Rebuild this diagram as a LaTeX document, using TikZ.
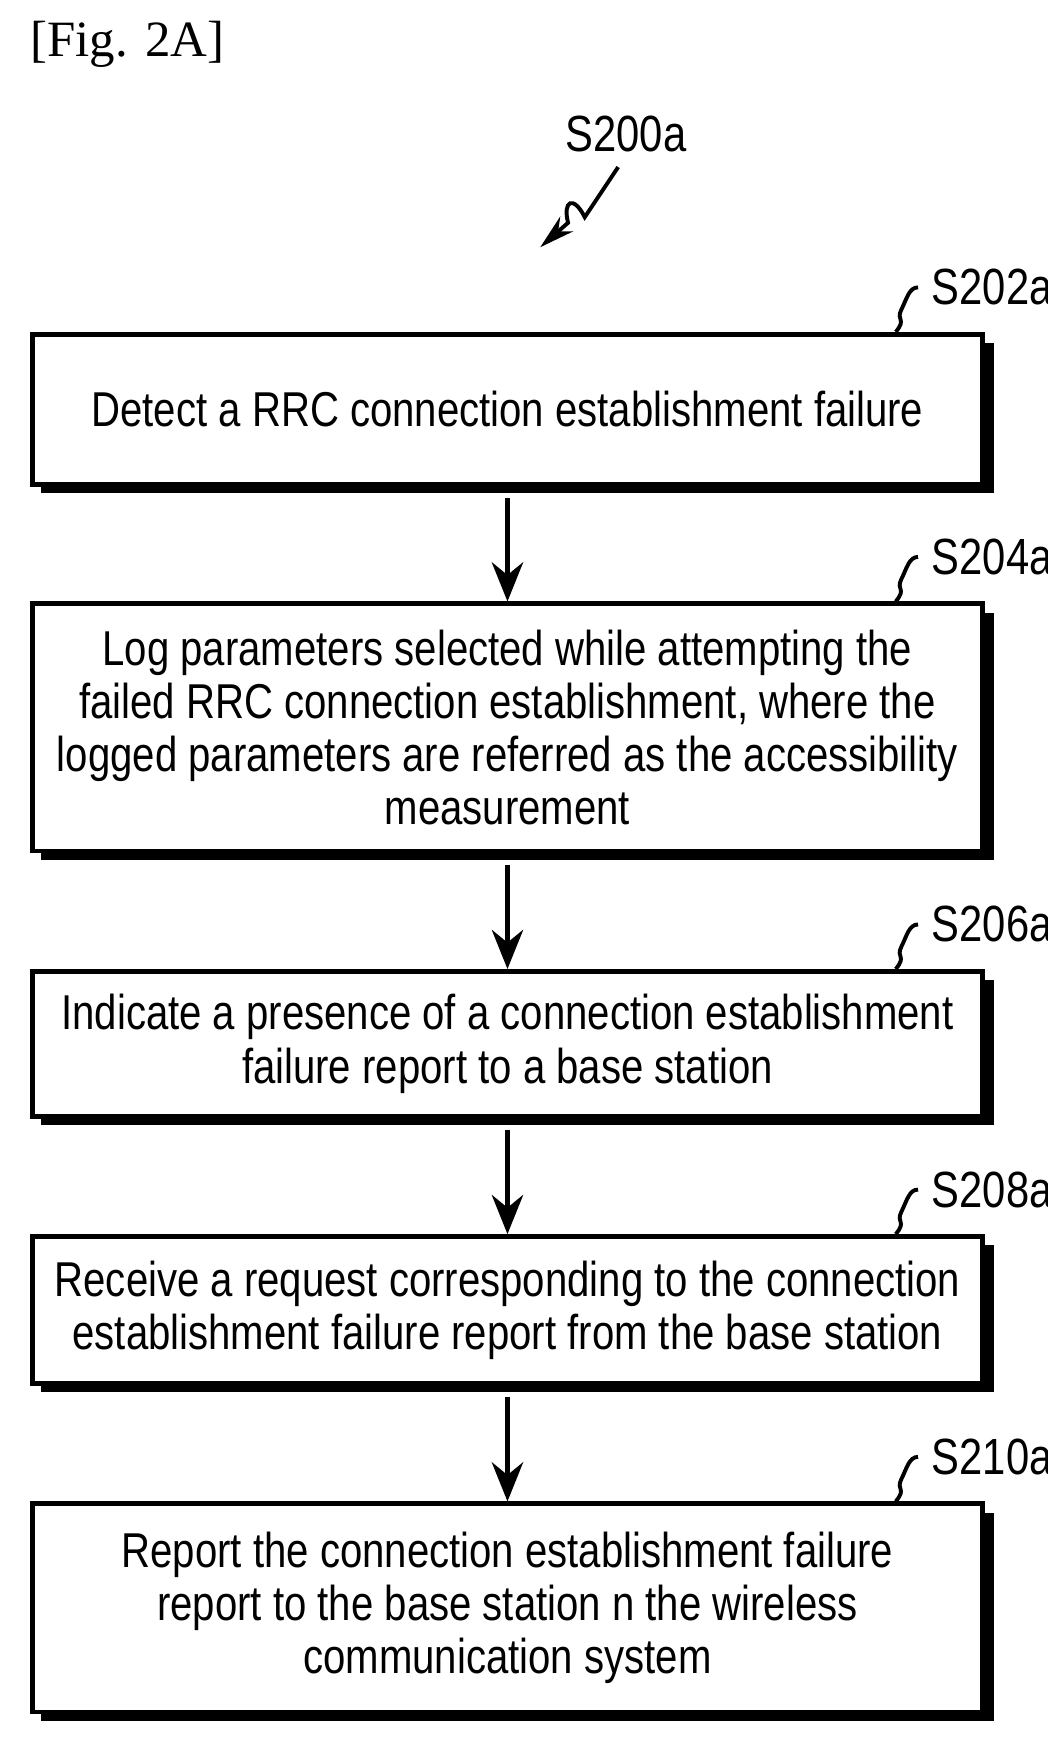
\documentclass[tikz,border=0pt]{standalone}
\usepackage{fontspec}
\setmainfont{Liberation Sans}[FakeStretch=0.82]
\newfontfamily\figfont{Liberation Serif}
\usetikzlibrary{positioning,arrows.meta}
\tikzset{
  stepnode/.style={draw, line width=1.2pt, fill=white, minimum width=8.53cm, align=center,
    font=\fontsize{12.5}{13.6}\selectfont, inner sep=0pt},
  shade/.style={fill=black},
  flow/.style={-{Stealth[length=10pt,width=8pt]}, line width=1.2pt},
  tag/.style={font=\fontsize{13}{14}\selectfont, anchor=west}
}
\newcommand{\stepbox}[4]{% name, top y, bottom y, text
  \fill[shade] (0.37,-#2-0.1) rectangle (8.92,-#3-0.1);
  \pgfmathsetmacro{\bh}{#3-#2}
  \node[stepnode, minimum height=\bh cm, anchor=north west] (#1) at (0.27,-#2) {#4};
}
\begin{document}
\begin{tikzpicture}
  \useasboundingbox (0,0) rectangle (9.4,-15.613);
  \node[font=\figfont\fontsize{13}{14}\selectfont, anchor=west] (fig) at (0.15,-0.4) {[Fig. 2A]};
  % overall label
  \node[tag, anchor=center] (s200) at (5.62,-1.2) {S200a};
  \coordinate (s200end) at (4.85,-2.22);
  \draw[-{Stealth[length=9pt,width=5pt]}, line width=1pt] (5.55,-1.5) -- (5.25,-1.95) .. controls (5.15,-1.75) and (5.05,-1.8) .. (5.1,-2.0) -- (s200end);
  % steps
  \stepbox{b202}{2.98}{4.33}{Detect a RRC connection establishment failure}
  \stepbox{b204}{5.40}{7.62}{Log parameters selected while attempting the\\failed RRC connection establishment, where the\\logged parameters are referred as the accessibility\\measurement}
  \stepbox{b206}{8.70}{10.00}{Indicate a presence of a connection establishment\\failure report to a base station}
  \stepbox{b208}{11.08}{12.40}{Receive a request corresponding to the connection\\establishment failure report from the base station}
  \stepbox{b210}{13.48}{15.35}{Report the connection establishment failure\\report to the base station n the wireless\\communication system}
  % step labels
  \foreach \b/\t in {b202/S202a, b204/S204a, b206/S206a, b208/S208a, b210/S210a} {
    \coordinate (\b tip) at ([xshift=-0.8cm]\b.north east);
    \node[tag] (\b lab) at ([xshift=0.2cm, yshift=0.4cm]\b tip) {\t};
    \draw[line width=1pt] (\b tip) .. controls +(0.1,0.12) and +(-0.05,-0.1) .. ++(0.05,0.2)
      .. controls +(0.05,0.1) and +(-0.08,0) .. (\b lab.west);
  }
  % arrows
  \foreach \a/\b in {b202/b204, b204/b206, b206/b208, b208/b210}
    \draw[flow] ([yshift=-0.1cm]\a.south) -- (\b.north);
\end{tikzpicture}
\end{document}
